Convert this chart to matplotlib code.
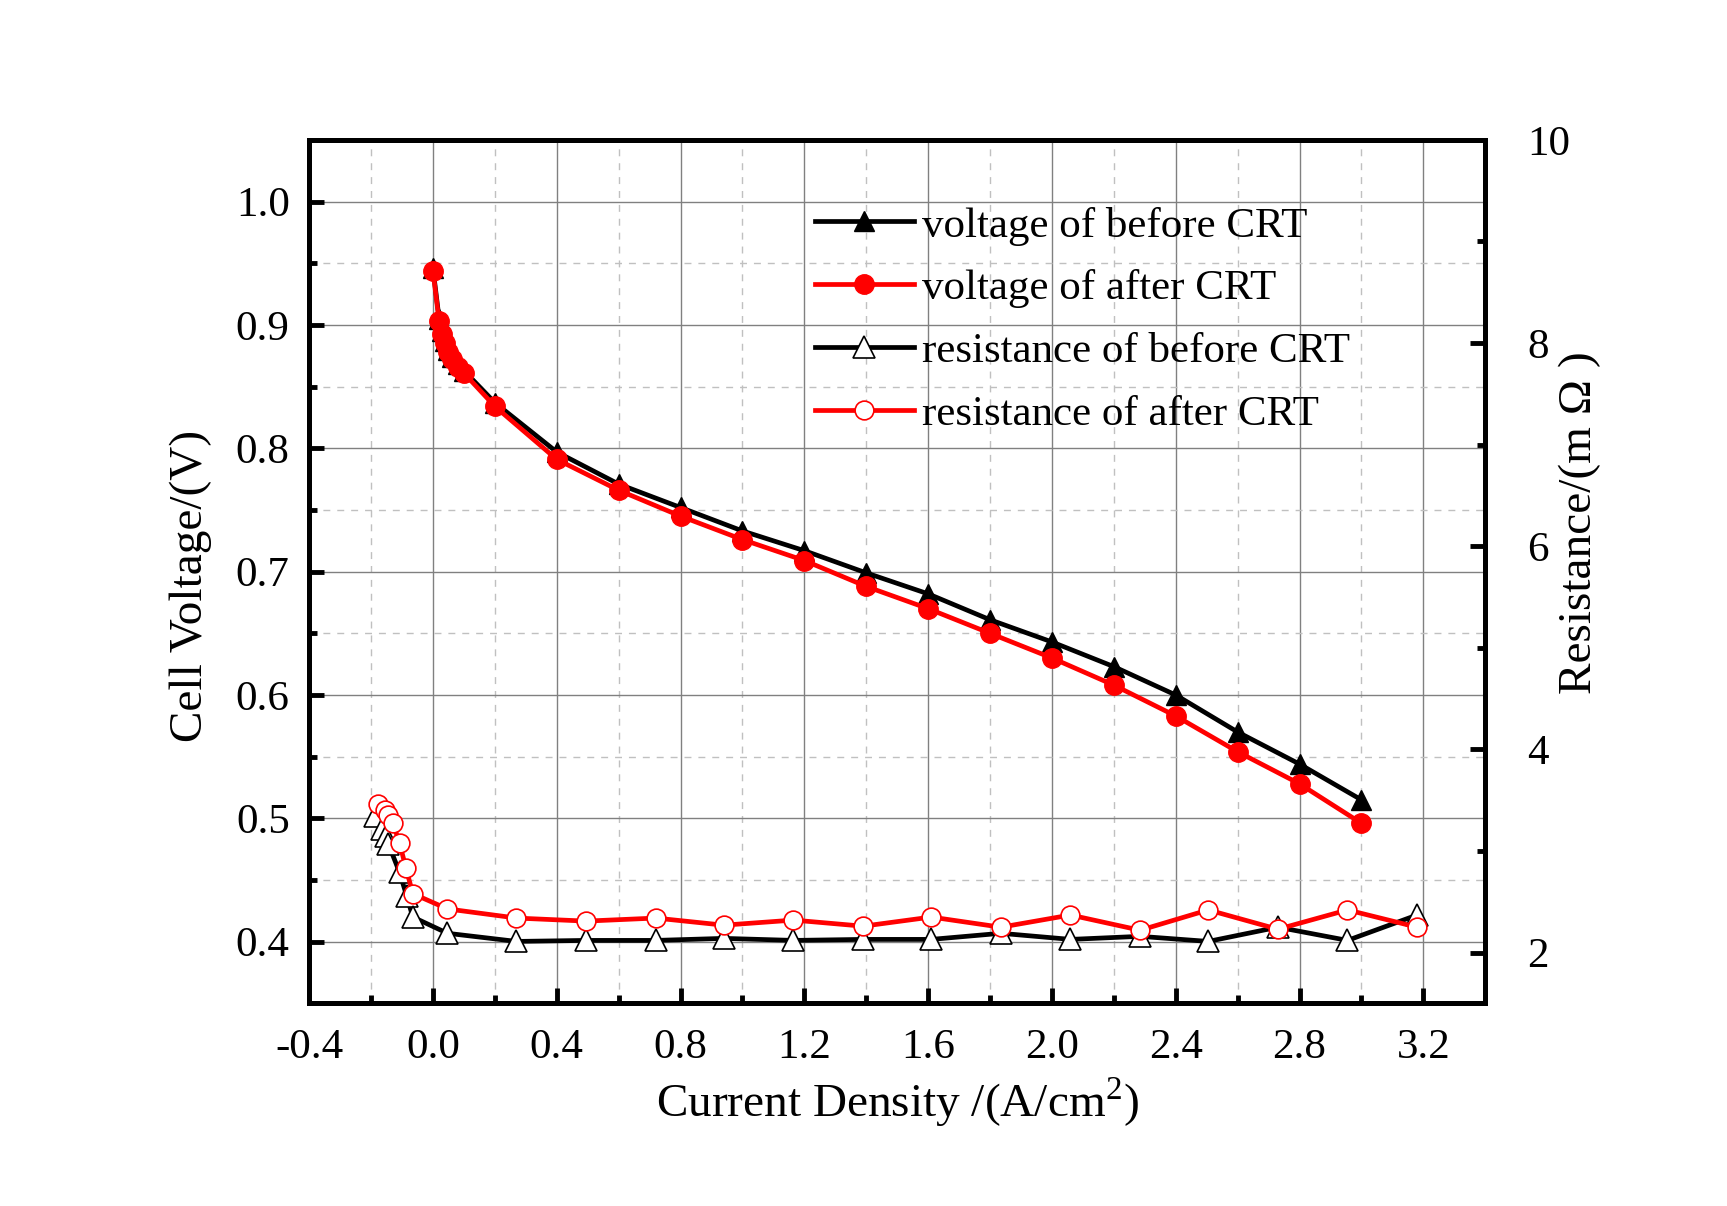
import matplotlib
matplotlib.use("Agg")
import matplotlib.pyplot as plt
from matplotlib.ticker import MultipleLocator

plt.rcParams['font.family'] = ['Liberation Serif', 'DejaVu Serif']
plt.rcParams['mathtext.fontset'] = 'custom'
plt.rcParams['mathtext.rm'] = 'Liberation Serif'

# polarization curves (A/cm2 vs V)
j_v = [0, 0.02, 0.03, 0.04, 0.05, 0.06, 0.08, 0.1, 0.2, 0.4, 0.6, 0.8, 1.0,
       1.2, 1.4, 1.6, 1.8, 2.0, 2.2, 2.4, 2.6, 2.8, 3.0]
v_before = [0.946, 0.905, 0.895, 0.887, 0.880, 0.874, 0.868, 0.863, 0.837, 0.797,
            0.771, 0.752, 0.733, 0.717, 0.699, 0.682, 0.661, 0.643, 0.623,
            0.600, 0.570, 0.544, 0.515]
v_after = [0.944, 0.903, 0.893, 0.885, 0.878, 0.872, 0.866, 0.861, 0.834, 0.791,
           0.766, 0.745, 0.726, 0.709, 0.688, 0.670, 0.650, 0.630, 0.608,
           0.583, 0.554, 0.528, 0.496]

# high frequency resistance (mOhm)
j_rb = [-0.187, -0.163, -0.151, -0.144, -0.108, -0.085, -0.065, 0.047, 0.27,
        0.495, 0.72, 0.94, 1.165, 1.39, 1.61, 1.835, 2.06, 2.285, 2.505,
        2.73, 2.955, 3.18]
r_before = [3.34, 3.22, 3.15, 3.07, 2.79, 2.56, 2.35, 2.19, 2.11, 2.12, 2.12,
            2.14, 2.12, 2.13, 2.13, 2.19, 2.13, 2.16, 2.11, 2.25, 2.12, 2.37]
j_ra = [-0.176, -0.155, -0.144, -0.130, -0.108, -0.087, -0.065, 0.047, 0.27,
        0.495, 0.72, 0.94, 1.165, 1.39, 1.61, 1.835, 2.06, 2.285, 2.505,
        2.73, 2.955, 3.18]
r_after = [3.46, 3.40, 3.35, 3.28, 3.08, 2.83, 2.58, 2.43, 2.34, 2.31, 2.34,
           2.27, 2.32, 2.26, 2.35, 2.25, 2.37, 2.22, 2.42, 2.23, 2.42, 2.25]

fig = plt.figure(figsize=(17.27, 12.06), dpi=100)
ax = fig.add_axes([0.179, 0.168, 0.681, 0.716])
ax2 = ax.twinx()

fs = 31
lfs = 34
lw = 3.4
l1, = ax.plot(j_v, v_before, color='k', lw=lw, marker='^', ms=15, mfc='k', mec='k',
              label='voltage of before CRT', zorder=3)
l2, = ax.plot(j_v, v_after, color='red', lw=lw, marker='o', ms=14, mfc='red', mec='red',
              label='voltage of after CRT', zorder=4)
l3, = ax2.plot(j_rb, r_before, color='k', lw=lw, marker='^', ms=16, mfc='white', mec='k',
               mew=1.2, label='resistance of before CRT', zorder=3)
l4, = ax2.plot(j_ra, r_after, color='red', lw=lw, marker='o', ms=13.5, mfc='white', mec='red',
               mew=1.2, label='resistance of after CRT', zorder=4)

ax.set_xlim(-0.4, 3.4)
ax.set_ylim(0.35, 1.05)
ax2.set_ylim(1.5, 10)

ax.xaxis.set_major_locator(MultipleLocator(0.4))
ax.xaxis.set_minor_locator(MultipleLocator(0.2))
ax.yaxis.set_major_locator(MultipleLocator(0.1))
ax.yaxis.set_minor_locator(MultipleLocator(0.05))
ax2.yaxis.set_major_locator(MultipleLocator(2))
ax2.yaxis.set_minor_locator(MultipleLocator(1))
ax.set_xticks([-0.4, 0.0, 0.4, 0.8, 1.2, 1.6, 2.0, 2.4, 2.8, 3.2])
ax.set_xticklabels(['-0.4', '0.0', '0.4', '0.8', '1.2', '1.6', '2.0', '2.4', '2.8', '3.2'])
ax.set_yticks([0.4, 0.5, 0.6, 0.7, 0.8, 0.9, 1.0])
ax.set_yticklabels(['0.4', '0.5', '0.6', '0.7', '0.8', '0.9', '1.0'])

ax.grid(which='major', color='#808080', lw=1.0, ls='-')
ax.grid(which='minor', color='#c0c0c0', lw=1.0, ls=(0, (5, 5)))
ax.set_axisbelow(True)

ax.tick_params(which='both', direction='in', labelsize=fs, top=False, right=False)
ax.tick_params(axis='x', pad=18)
ax.tick_params(axis='y', pad=14)
ax.tick_params(which='major', length=11, width=3.5)
ax.tick_params(which='minor', length=6, width=3.5)
ax2.tick_params(which='both', direction='in', labelsize=fs, pad=30)
ax2.tick_params(which='major', length=11, width=3.5)
ax2.tick_params(which='minor', length=6, width=3.5)
for a in (ax, ax2):
    for s in a.spines.values():
        s.set_linewidth(3.6)

ax.set_xlabel(r'Current Density /(A/cm$^2$)', fontsize=lfs, labelpad=6)
ax.set_ylabel('Cell Voltage/(V)', fontsize=lfs)
ax.yaxis.set_label_coords(-0.083, 0.484)
ax2.set_ylabel('Resistance/(m \u03a9 )', fontsize=lfs)
ax2.yaxis.set_label_coords(1.062, 0.557)

ax.legend(handles=[l1, l2, l3, l4], loc='upper left', bbox_to_anchor=(0.43, 0.923),
          frameon=False, fontsize=fs, handlelength=2.3, handletextpad=0.2,
          labelspacing=0.55, borderpad=0, borderaxespad=0, numpoints=1)

plt.savefig('out.png', dpi=100)
